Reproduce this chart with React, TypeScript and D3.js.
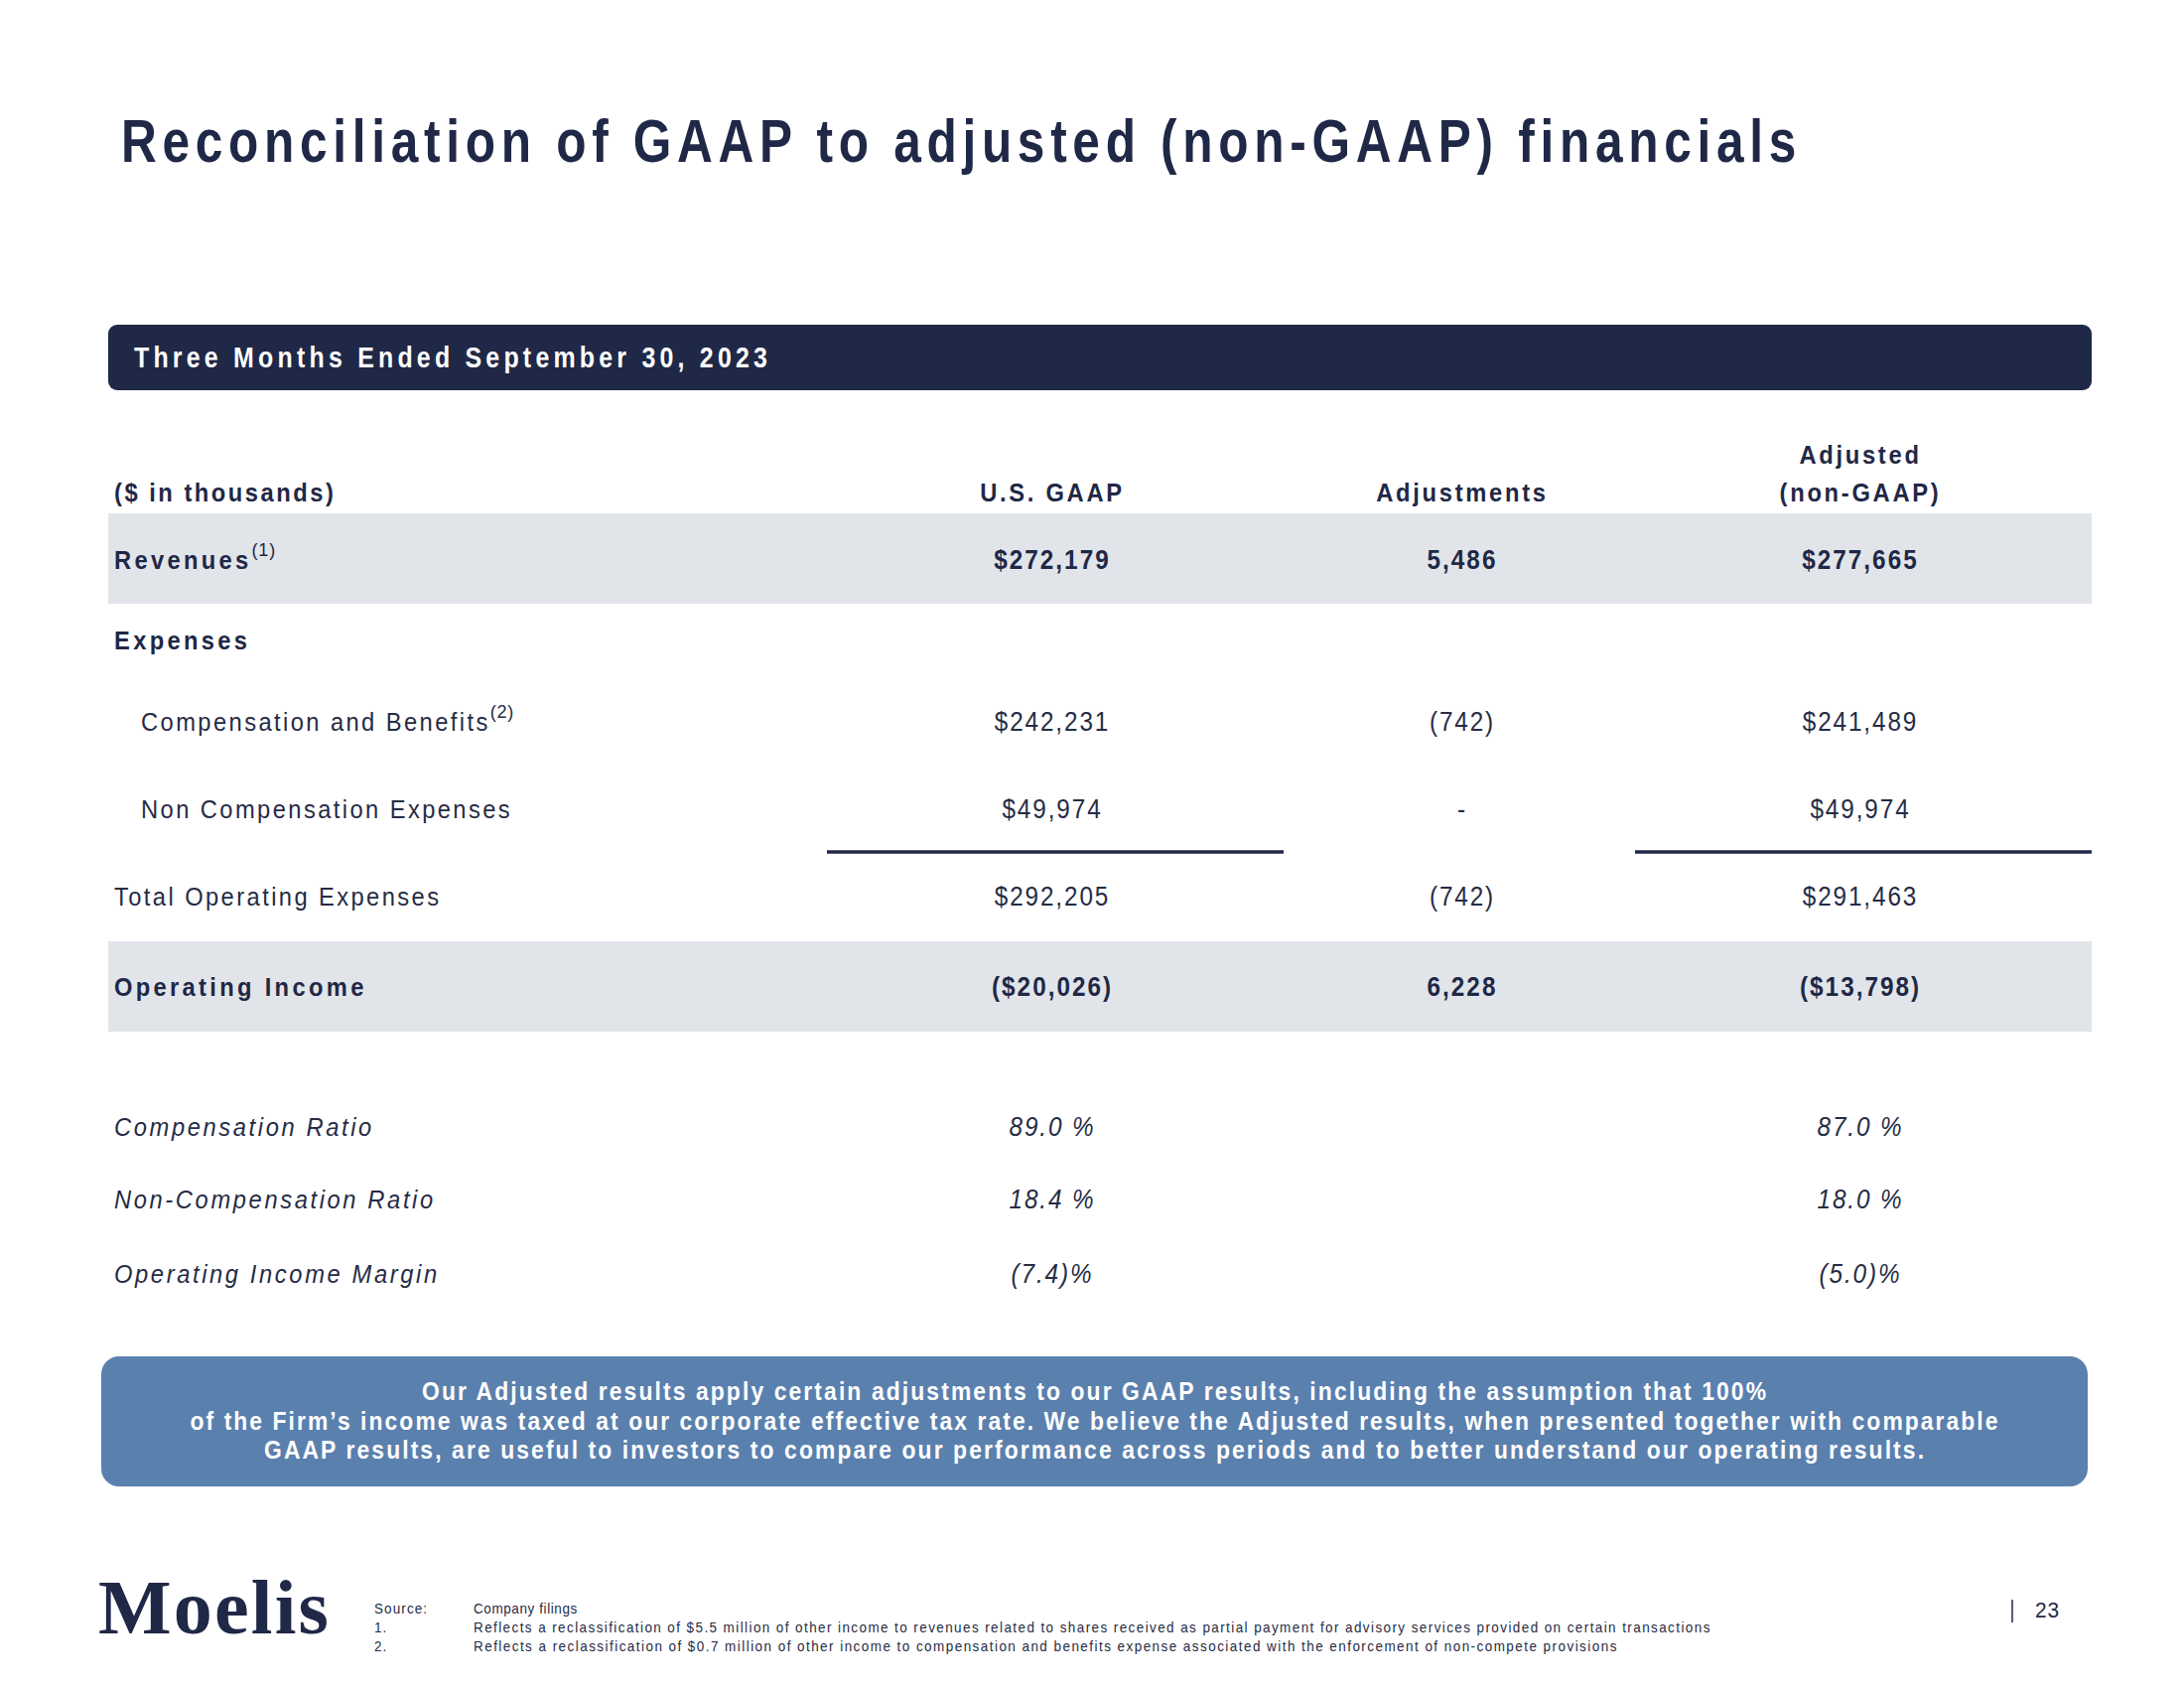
import React from "react";
import * as d3 from "d3";

// ---------- DATA ----------
const titleText = "Reconciliation of GAAP to adjusted (non-GAAP) financials";
const periodLabel = "Three Months Ended September 30, 2023";
const unitLabel = "($ in thousands)";
const columnKeys = ["gaap", "adj", "adjusted"];
const columnHeaderLines = [["U.S. GAAP"], ["Adjustments"], ["Adjusted", "(non-GAAP)"]];

const rowKeys = ["revenues", "comp", "noncomp", "total", "opinc"];
const rowLabels = ["Revenues", "Compensation and Benefits", "Non Compensation Expenses", "Total Operating Expenses", "Operating Income"];
const rowNotes = ["(1)", "(2)", "", "", ""];
const gaapValues = [272179, 242231, 49974, 292205, -20026];
const adjustmentValues = [5486, -742, 0, -742, 6228];
const adjustedValues = [277665, 241489, 49974, 291463, -13798];
const expensesHeading = "Expenses";

const ratioKeys = ["compRatio", "nonCompRatio", "opMargin"];
const ratioLabels = ["Compensation Ratio", "Non-Compensation Ratio", "Operating Income Margin"];
const gaapRatios = [89.0, 18.4, -7.4];
const adjustedRatios = [87.0, 18.0, -5.0];

const noteLines = [
  "Our Adjusted results apply certain adjustments to our GAAP results, including the assumption that 100%",
  "of the Firm\u2019s income was taxed at our corporate effective tax rate. We believe the Adjusted results, when presented together with comparable",
  "GAAP results, are useful to investors to compare our performance across periods and to better understand our operating results.",
];
const footnoteMarks = ["Source:", "1.", "2."];
const footnoteTexts = [
  "Company filings",
  "Reflects a reclassification of $5.5 million of other income to revenues related to shares received as partial payment for advisory services provided on certain transactions",
  "Reflects a reclassification of $0.7 million of other income to compensation and benefits expense associated with the enforcement of non-compete provisions",
];
const logoText = "Moelis";
const pageNumber = "23";

// ---------- STYLE / LAYOUT ----------
const W = 2200;
const H = 1700;
const NAVY = "#1f2846";
const TEXT = "#262c45";
const SHADE = "#e1e5ea";
const BLUE = "#5a80ae";
const SANS = "'Liberation Sans', Arial, sans-serif";
const SERIF = "'Liberation Serif', 'Times New Roman', serif";
const SXL = 0.95; // labels
const SXV = 0.9; // values

const xCol = d3.scaleOrdinal<string, number>().domain(columnKeys).range([1060, 1473, 1874]);
const yRow = d3
  .scaleOrdinal<string, number>()
  .domain([...rowKeys, "expenses", ...ratioKeys])
  .range([573, 736, 824, 912, 1003, 654, 1144, 1217, 1292]);
const shadeTop = d3.scaleOrdinal<string, number>().domain(["revenues", "opinc"]).range([517, 948]);
const shadeH = 91;
const tableLeft = 109;
const tableRight = 2107;
const labelX = 115;
const indentX = 142;
const noteWidths = [1354, 1821, 1672];
const footWidths = [0, 1246, 1152];

const fmtNum = d3.format(",.0f");
const money = (v: number, dollar: boolean) => {
  if (v === 0) return "-";
  const s = (dollar ? "$" : "") + fmtNum(Math.abs(v));
  return v < 0 ? `(${s})` : s;
};
const pct = (v: number) => (v < 0 ? `(${Math.abs(v).toFixed(1)})%` : `${v.toFixed(1)} %`);

type TP = {
  x: number;
  y: number;
  size: number;
  weight?: number;
  italic?: boolean;
  sx?: number;
  ls?: number;
  anchor?: "start" | "middle" | "end";
  fill?: string;
  family?: string;
  fit?: number;
  children?: React.ReactNode;
};
function T({ x, y, size, weight = 400, italic = false, sx = 1, ls = 0, anchor = "start", fill = NAVY, family = SANS, fit, children }: TP) {
  const extra: any = {};
  if (fit) {
    extra.textLength = fit / sx;
    extra.lengthAdjust = "spacing";
  }
  return (
    <text
      transform={`translate(${x},${y}) scale(${sx},1)`}
      fontFamily={family}
      fontSize={size}
      fontWeight={weight}
      fontStyle={italic ? "italic" : "normal"}
      textAnchor={anchor}
      fill={fill}
      style={{ letterSpacing: `${ls / sx}px` }}
      {...extra}
    >
      {children}
    </text>
  );
}

export default function App() {
  const boldRows = new Set(["revenues", "opinc"]);
  const indented = new Set(["comp", "noncomp"]);
  return (
    <svg width={W} height={H} viewBox={`0 0 ${W} ${H}`} style={{ position: "absolute", left: 0, top: 0, background: "#fff" }}>
      <rect x={0} y={0} width={W} height={H} fill="#fff" />
      {/* Title */}
      <T x={122} y={163} size={62} weight={700} sx={0.8} ls={5.7} fill={NAVY}>
        {titleText}
      </T>

      {/* Period bar */}
      <rect x={tableLeft} y={327} width={tableRight - tableLeft} height={66} rx={9} fill={NAVY} />
      <T x={135} y={370} size={29} weight={700} sx={0.86} fit={638} fill="#fff">
        {periodLabel}
      </T>

      {/* Column headers */}
      <T x={labelX} y={505} size={25} weight={700} sx={SXL} ls={2.5} fill={NAVY}>
        {unitLabel}
      </T>
      {columnKeys.map((k, i) => {
        const lines = columnHeaderLines[i];
        return lines.map((ln, j) => (
          <T key={k + j} x={xCol(k)} y={505 - (lines.length - 1 - j) * 38} size={25} weight={700} sx={SXL} ls={2.7} anchor="middle" fill={NAVY}>
            {ln}
          </T>
        ));
      })}

      {/* Shaded rows */}
      {["revenues", "opinc"].map((k) => (
        <rect key={k} x={tableLeft} y={shadeTop(k)} width={tableRight - tableLeft} height={shadeH} fill={SHADE} />
      ))}

      {/* Expenses heading */}
      <T x={labelX} y={yRow("expenses")} size={25} weight={700} sx={SXL} ls={3.3} fill={NAVY}>
        {expensesHeading}
      </T>

      {/* Main rows */}
      {rowKeys.map((k, i) => {
        const bold = boldRows.has(k);
        const y = yRow(k);
        const vals = [gaapValues[i], adjustmentValues[i], adjustedValues[i]];
        return (
          <g key={k}>
            <T x={indented.has(k) ? indentX : labelX} y={y} size={25} weight={bold ? 700 : 400} sx={SXL} ls={bold ? 3.3 : 2.4} fill={bold ? NAVY : TEXT}>
              {rowLabels[i]}
              {rowNotes[i] ? (
                <tspan fontSize={19} dy={-13} fontWeight={400} style={{ letterSpacing: "0.8px" }}>
                  {rowNotes[i]}
                </tspan>
              ) : null}
            </T>
            {columnKeys.map((c, j) => (
              <T key={c} x={xCol(c)} y={y} size={27} weight={bold ? 700 : 400} sx={SXV} ls={bold ? 2.0 : 1.9} anchor="middle" fill={bold ? NAVY : TEXT}>
                {money(vals[j], j !== 1)}
              </T>
            ))}
          </g>
        );
      })}

      {/* Subtotal rules */}
      {["gaap", "adjusted"].map((c) => (
        <line key={c} x1={xCol(c) - 227} x2={xCol(c) + 233} y1={858} y2={858} stroke={NAVY} strokeWidth={3.5} />
      ))}

      {/* Ratios */}
      {ratioKeys.map((k, i) => (
        <g key={k}>
          <T x={labelX} y={yRow(k)} size={25} italic sx={SXL} ls={2.6} fill={TEXT}>
            {ratioLabels[i]}
          </T>
          <T x={xCol("gaap")} y={yRow(k)} size={27} italic sx={SXV} ls={1.9} anchor="middle" fill={TEXT}>
            {pct(gaapRatios[i])}
          </T>
          <T x={xCol("adjusted")} y={yRow(k)} size={27} italic sx={SXV} ls={1.9} anchor="middle" fill={TEXT}>
            {pct(adjustedRatios[i])}
          </T>
        </g>
      ))}

      {/* Note box */}
      <rect x={102} y={1366} width={2001} height={131} rx={18} fill={BLUE} />
      {noteLines.map((ln, i) => (
        <T key={i} x={1102} y={1410 + i * 29.5} size={26} weight={700} sx={0.88} fit={noteWidths[i]} anchor="middle" fill="#fff">
          {ln}
        </T>
      ))}

      {/* Footer */}
      <T x={99} y={1645} size={78} weight={700} family={SERIF} ls={2.2} fill={NAVY}>
        {logoText}
      </T>
      {footnoteMarks.map((m, i) => (
        <g key={m}>
          <T x={377} y={1625 + i * 19} size={15} sx={0.9} ls={1.1} fill={TEXT}>
            {m}
          </T>
          <T x={477} y={1625 + i * 19} size={15} sx={0.9} ls={0.6} fit={footWidths[i] || undefined} fill={TEXT}>
            {footnoteTexts[i]}
          </T>
        </g>
      ))}
      <line x1={2027} x2={2027} y1={1611} y2={1634} stroke={NAVY} strokeWidth={1.5} />
      <T x={2050} y={1629} size={22} sx={0.95} ls={1} fill={NAVY}>
        {pageNumber}
      </T>
    </svg>
  );
}
